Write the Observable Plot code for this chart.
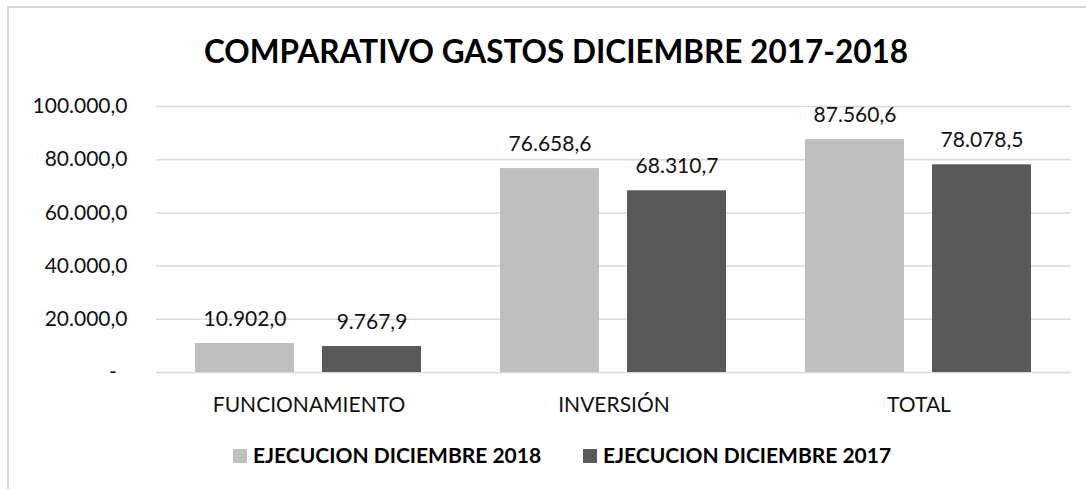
<!DOCTYPE html>
<html>
<head>
<meta charset="utf-8">
<script src="https://cdn.jsdelivr.net/npm/d3@7"></script>
<script src="https://cdn.jsdelivr.net/npm/@observablehq/plot@0.6"></script>
<style>
  body { margin: 0; background: #fff; }
  #wrap { position: relative; width: 1086px; height: 489px; overflow: hidden; font-family: Lato, "Open Sans", sans-serif; }
  #frame { position: absolute; left: 7px; top: 6px; width: 1100px; height: 500px; border: 2px solid #d9d9d9; box-sizing: border-box; }
  #title { position: absolute; left: 0; width: 1112px; top: 33px; text-align: center; font-weight: 700; font-size: 31.5px; line-height: 1.2; color: #000; white-space: nowrap; }
  #chart { position: absolute; left: 0; top: 0; }
  .leg { position: absolute; top: 442px; font-weight: 700; font-size: 21px; line-height: 1.2; color: #000; white-space: nowrap; }
  .sw { position: absolute; top: 449px; width: 14px; height: 14px; }
</style>
</head>
<body>
<div id="wrap">
  <div id="frame"></div>
  <div id="chart"></div>
  <div id="title"></div>
  <div id="legend"></div>
</div>
<script>
const titleText = "COMPARATIVO GASTOS DICIEMBRE 2017-2018";
const categories = ["FUNCIONAMIENTO", "INVERSIÓN", "TOTAL"];
const series = ["EJECUCION DICIEMBRE 2018", "EJECUCION DICIEMBRE 2017"];
const values2018 = [10902.0, 76658.6, 87560.6];
const values2017 = [9767.9, 68310.7, 78078.5];
const yTicks = [0, 20000, 40000, 60000, 80000, 100000];
const colors = ["#bfbfbf", "#595959"];

const locale = d3.formatLocale({decimal: ",", thousands: ".", grouping: [3], currency: ["$", ""]});
const fmt = locale.format(",.1f");
const tickFmt = d => d === 0 ? "-\u00a0\u00a0" : fmt(d);

const data = categories.flatMap((c, i) => [
  {cat: c, serie: series[0], value: values2018[i]},
  {cat: c, serie: series[1], value: values2017[i]}
]);

document.getElementById("title").textContent = titleText;

const chart = Plot.plot({
  width: 1086,
  height: 489,
  marginTop: 106,
  marginBottom: 117,
  marginLeft: 156,
  marginRight: 15,
  style: {fontFamily: "Lato, 'Open Sans', sans-serif", fontSize: "21px", color: "#111", background: "transparent", overflow: "visible"},
  fx: {domain: categories, padding: 0, label: null},
  x: {domain: series, paddingInner: 0.21875, paddingOuter: 0.3008},
  y: {domain: [0, 100000]},
  color: {domain: series, range: colors},
  marks: [
    Plot.gridY(yTicks, {stroke: "#d9d9d9", strokeOpacity: 1, strokeWidth: 1.5}),
    Plot.axisY(yTicks, {tickSize: 0, tickPadding: 29, tickFormat: tickFmt, label: null, fontSize: 21}),
    Plot.axisFx({anchor: "bottom", tickSize: 0, tickPadding: 25, label: null, fontSize: 21}),
    Plot.axisX({ticks: [], label: null, tickSize: 0}),
    Plot.barY(data, {fx: "cat", x: "serie", y: "value", fill: "serie"}),
    Plot.text(data, {fx: "cat", x: "serie", y: "value", text: d => fmt(d.value), dy: -18, lineAnchor: "bottom", fontSize: 21, fill: "#111"})
  ]
});
document.getElementById("chart").appendChild(chart);

const legend = document.getElementById("legend");
const legX = [233, 583];
series.forEach((s, i) => {
  const sw = document.createElement("div");
  sw.className = "sw";
  sw.style.left = legX[i] + "px";
  sw.style.background = colors[i];
  legend.appendChild(sw);
  const t = document.createElement("div");
  t.className = "leg";
  t.style.left = (legX[i] + 20) + "px";
  t.textContent = s;
  legend.appendChild(t);
});
</script>
</body>
</html>
